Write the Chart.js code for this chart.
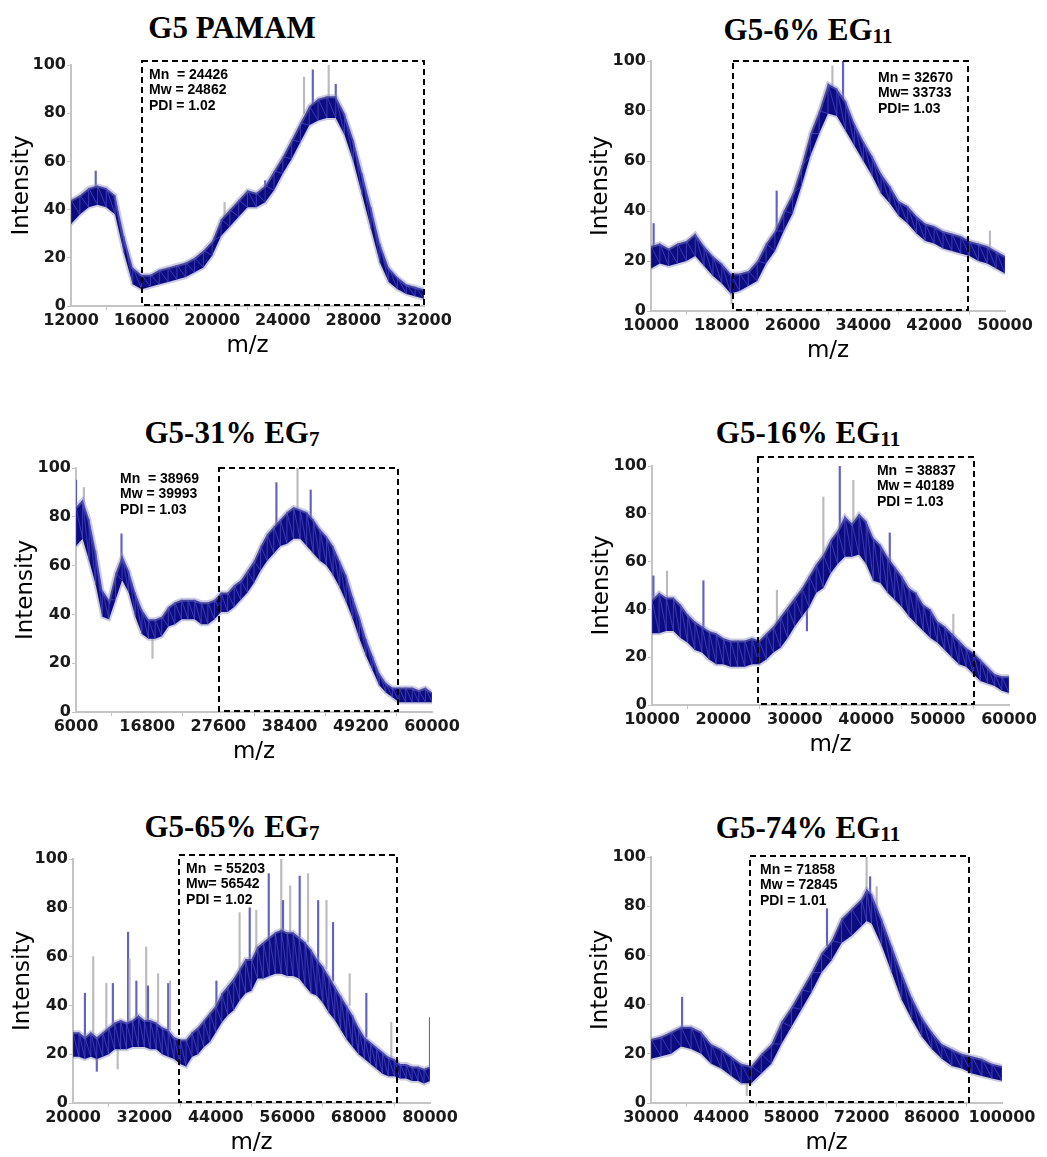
<!DOCTYPE html>
<html>
<head>
<meta charset="utf-8">
<script src="https://cdn.jsdelivr.net/npm/chart.js@4.4.1/dist/chart.umd.min.js"></script>
<style>
  html, body { margin: 0; padding: 0; background: #fff; }
  body { position: relative; width: 1047px; height: 1157px; overflow: hidden; }
  canvas { position: absolute; }
  .ttl { position: absolute; width: 320px; text-align: center; color: #000; white-space: nowrap;
         font: bold 31px "Liberation Serif", "Times New Roman", serif; line-height: 30px; }
  .ttl sub { font-size: 0.68em; vertical-align: -0.12em; line-height: 0; }
</style>
</head>
<body>
<div class="ttl" style="left:72px;top:13px">G5 PAMAM</div>
<div class="ttl" style="left:648px;top:15px">G5-6% EG<sub>11</sub></div>
<div class="ttl" style="left:72px;top:418px">G5-31% EG<sub>7</sub></div>
<div class="ttl" style="left:648px;top:418px">G5-16% EG<sub>11</sub></div>
<div class="ttl" style="left:72px;top:812px">G5-65% EG<sub>7</sub></div>
<div class="ttl" style="left:648px;top:813px">G5-74% EG<sub>11</sub></div>

<script>
// shared y ticks
const yTicks = [0, 20, 40, 60, 80, 100];

// G5 PAMAM
const xTicks1 = [12000, 16000, 20000, 24000, 28000, 32000];
const mz1 = [12000, 12500, 13000, 13500, 14000, 14500, 15000, 15500, 16000, 16500, 17000, 17500, 18000, 18500, 19000, 19500,
  20000, 20500, 21000, 21500, 22000, 22500, 23000, 23500, 24000, 24500, 25000, 25500, 26000, 26500, 27000, 27500,
  28000, 28500, 29000, 29500, 30000, 30500, 31000, 31500, 32000];
const lo1 = [34, 38, 41, 42, 41, 38, 22, 9, 7, 8, 9, 10, 11, 12, 14, 16,
  21, 29, 33, 37, 41, 41, 43, 48, 55, 61, 68, 75, 77, 78, 78, 71,
  60, 46, 32, 18, 10, 7, 5, 4, 3];
const hi1 = [44, 46, 49, 50, 49, 46, 29, 16, 13, 13, 15, 16, 17, 18, 20, 23,
  27, 36, 40, 44, 48, 47, 50, 56, 62, 69, 76, 83, 86, 87, 87, 80,
  69, 55, 41, 26, 16, 12, 9, 8, 7];
const spikes1 = [[13400, 44, 56], [20700, 33, 43], [23000, 44, 52], [25200, 80, 95], [25700, 82, 98], [26600, 84, 100], [27000, 83, 92]];
const stats1 = ['Mn  = 24426', 'Mw = 24862', 'PDI = 1.02'];

// G5-6% EG11
const xTicks2 = [10000, 18000, 26000, 34000, 42000, 50000];
const mz2 = [10000, 11000, 12000, 13000, 14000, 15000, 16000, 17000, 18000, 19000, 20000, 21000, 22000, 23000, 24000,
  25000, 26000, 27000, 28000, 29000, 30000, 31000, 32000, 33000, 34000, 35000, 36000, 37000, 38000, 39000, 40000,
  41000, 42000, 43000, 44000, 45000, 46000, 47000, 48000, 49000, 50000];
const lo2 = [17, 19, 18, 19, 20, 22, 18, 14, 11, 7, 8, 10, 12, 19, 24,
  32, 39, 50, 62, 71, 79, 78, 72, 66, 60, 54, 47, 43, 38, 35, 31,
  28, 27, 25, 24, 23, 22, 20, 19, 17, 15];
const hi2 = [26, 27, 25, 27, 28, 31, 26, 22, 19, 15, 15, 16, 20, 27, 32,
  40, 47, 58, 71, 80, 91, 89, 84, 75, 68, 62, 55, 50, 44, 42, 38,
  35, 34, 32, 31, 30, 28, 27, 26, 24, 22];
const spikes2 = [[10300, 24, 35], [19100, 3, 10], [24200, 30, 48], [30500, 88, 98], [31700, 85, 100], [48300, 24, 32]];
const stats2 = ['Mn = 32670', 'Mw= 33733', 'PDI= 1.03'];

// G5-31% EG7
const xTicks3 = [6000, 16800, 27600, 38400, 49200, 60000];
const mz3 = [6000, 7000, 8000, 9000, 10000, 11000, 12000, 13000, 14000, 15000, 16000, 17000, 18000, 19000, 20000,
  21000, 22000, 23000, 24000, 25000, 26000, 27000, 28000, 29000, 30000, 31000, 32000, 33000, 34000, 35000, 36000,
  37000, 38000, 39000, 40000, 41000, 42000, 43000, 44000, 45000, 46000, 47000, 48000, 49000, 50000, 51000, 52000,
  53000, 54000, 55000, 56000, 57000, 58000, 59000, 60000];
const lo3 = [68, 71, 62, 52, 39, 38, 46, 54, 49, 39, 32, 30, 30, 31, 35,
  36, 38, 38, 38, 36, 36, 38, 41, 41, 43, 46, 49, 53, 58, 62, 65,
  68, 69, 71, 71, 68, 65, 62, 60, 56, 51, 45, 38, 30, 23, 17, 11,
  8, 6, 4, 4, 4, 4, 4, 4];
const hi3 = [84, 87, 79, 66, 50, 46, 57, 64, 58, 49, 42, 38, 38, 39, 43,
  45, 46, 46, 46, 45, 45, 46, 49, 49, 52, 54, 58, 62, 68, 73, 76,
  79, 82, 84, 83, 82, 79, 75, 72, 68, 62, 56, 47, 39, 30, 23, 16,
  12, 10, 10, 10, 10, 9, 10, 8];
const spikes3 = [[6000, 80, 95], [7200, 82, 92], [12900, 62, 73], [17600, 22, 32], [36400, 74, 94], [39600, 80, 100], [41600, 80, 91]];
const stats3 = ['Mn  = 38969', 'Mw = 39993', 'PDI = 1.03'];

// G5-16% EG11
const xTicks4 = [10000, 20000, 30000, 40000, 50000, 60000];
const mz4 = [10000, 11000, 12000, 13000, 14000, 15000, 16000, 17000, 18000, 19000, 20000, 21000, 22000, 23000, 24000,
  25000, 26000, 27000, 28000, 29000, 30000, 31000, 32000, 33000, 34000, 35000, 36000, 37000, 38000, 39000, 40000,
  41000, 42000, 43000, 44000, 45000, 46000, 47000, 48000, 49000, 50000, 51000, 52000, 53000, 54000, 55000, 56000,
  57000, 58000, 59000, 60000];
const lo4 = [30, 30, 31, 31, 28, 26, 23, 22, 19, 17, 17, 16, 16, 16, 17,
  17, 19, 22, 24, 28, 33, 37, 41, 47, 49, 55, 59, 62, 62, 63, 59,
  52, 51, 47, 44, 41, 37, 34, 31, 28, 26, 23, 20, 17, 16, 13, 10,
  9, 8, 6, 5];
const hi4 = [44, 47, 45, 45, 42, 38, 35, 33, 31, 30, 28, 27, 27, 27, 28,
  27, 30, 33, 37, 41, 45, 49, 54, 59, 63, 69, 73, 79, 76, 80, 77,
  70, 67, 62, 58, 54, 49, 47, 42, 40, 35, 33, 30, 27, 24, 22, 19,
  16, 13, 12, 12];
const spikes4 = [[10200, 42, 54], [12100, 44, 56], [17200, 32, 52], [27500, 33, 48], [31700, 31, 40], [34000, 60, 87],
  [36300, 72, 100], [38200, 76, 94], [43300, 60, 72], [52200, 28, 38]];
const stats4 = ['Mn  = 38837', 'Mw = 40189', 'PDI = 1.03'];

// G5-65% EG7
const xTicks5 = [20000, 32000, 44000, 56000, 68000, 80000];
const mz5 = [20000, 21000, 22000, 23000, 24000, 25000, 26000, 27000, 28000, 29000, 30000, 31000, 32000, 33000, 34000,
  35000, 36000, 37000, 38000, 39000, 40000, 41000, 42000, 43000, 44000, 45000, 46000, 47000, 48000, 49000, 50000,
  51000, 52000, 53000, 54000, 55000, 56000, 57000, 58000, 59000, 60000, 61000, 62000, 63000, 64000, 65000, 66000,
  67000, 68000, 69000, 70000, 71000, 72000, 73000, 74000, 75000, 76000, 77000, 78000, 79000, 80000];
const lo5 = [19, 19, 18, 19, 18, 19, 20, 22, 22, 22, 23, 23, 23, 22, 22,
  20, 19, 18, 16, 15, 19, 20, 23, 25, 29, 33, 36, 38, 42, 45, 46,
  51, 51, 52, 53, 53, 52, 52, 51, 48, 45, 44, 41, 37, 34, 30, 26,
  23, 20, 18, 16, 14, 12, 11, 11, 10, 10, 9, 9, 8, 9];
const hi5 = [29, 29, 27, 29, 27, 29, 31, 33, 34, 33, 34, 36, 34, 34, 33,
  31, 30, 27, 26, 26, 29, 31, 34, 37, 40, 45, 48, 51, 55, 59, 59,
  64, 66, 68, 70, 71, 70, 70, 68, 66, 63, 59, 56, 52, 48, 44, 40,
  36, 31, 27, 25, 23, 21, 19, 18, 16, 16, 15, 15, 14, 15];
const spikes5 = [[22000, 27, 45], [23400, 28, 60], [24000, 13, 20], [25600, 30, 49], [26700, 32, 49], [27500, 14, 22],
  [29250, 33, 70], [29500, 33, 59], [30650, 34, 50], [32300, 34, 64], [32600, 34, 48], [34300, 33, 53],
  [36000, 30, 49], [36300, 30, 50], [44100, 40, 50], [48000, 55, 78], [49700, 58, 80], [50800, 60, 79],
  [52900, 66, 94], [55000, 70, 100], [55300, 70, 83], [56500, 70, 89], [58100, 68, 93], [59500, 66, 94],
  [61200, 58, 83], [62600, 55, 83], [63700, 50, 74], [66500, 40, 53], [69300, 27, 45], [73500, 18, 33], [80000, 15, 35]];
const stats5 = ['Mn  = 55203', 'Mw= 56542', 'PDI = 1.02'];

// G5-74% EG11
const xTicks6 = [30000, 44000, 58000, 72000, 86000, 100000];
const mz6 = [30000, 32000, 34000, 36000, 38000, 40000, 42000, 44000, 46000, 48000, 50000, 52000, 54000, 56000, 58000,
  60000, 62000, 64000, 66000, 68000, 70000, 72000, 73000, 74000, 76000, 78000, 80000, 82000, 84000, 86000, 88000,
  90000, 92000, 94000, 96000, 98000, 100000];
const lo6 = [18, 19, 20, 23, 22, 20, 16, 14, 11, 8, 8, 12, 16, 24, 31,
  38, 45, 53, 58, 65, 68, 72, 74, 73, 64, 53, 42, 34, 27, 22, 18,
  15, 14, 12, 11, 10, 9];
const hi6 = [26, 27, 29, 31, 31, 29, 24, 22, 19, 16, 15, 20, 24, 33, 39,
  46, 53, 61, 66, 75, 79, 83, 87, 85, 75, 64, 53, 43, 35, 29, 24,
  22, 20, 19, 18, 16, 15];
const spikes6 = [[36200, 30, 43], [49100, 3, 12], [65100, 64, 79], [73000, 85, 100], [73700, 84, 92], [75000, 78, 88]];
const stats6 = ['Mn = 71858', 'Mw = 72845', 'PDI = 1.01'];

// panel layout: plot area in page pixels, dashed box and stats text in data units
const panels = [
  { mz: mz1, lo: lo1, hi: hi1, spikes: spikes1, xTicks: xTicks1, stats: stats1,
    l: 71, t: 65, r: 424, b: 306, box: [16000, 32000, 0.3, 101.7], txt: [16420, 95.9] },
  { mz: mz2, lo: lo2, hi: hi2, spikes: spikes2, xTicks: xTicks2, stats: stats2,
    l: 651, t: 61, r: 1005, b: 311, box: [19300, 45800, 0.3, 100], txt: [35650, 93.2] },
  { mz: mz3, lo: lo3, hi: hi3, spikes: spikes3, xTicks: xTicks3, stats: stats3,
    l: 76, t: 468, r: 432, b: 712, box: [27700, 54800, 0.3, 100], txt: [12670, 95.5] },
  { mz: mz4, lo: lo4, hi: hi4, spikes: spikes4, xTicks: xTicks4, stats: stats4,
    l: 652, t: 466, r: 1009, b: 705, box: [24800, 55100, 0.3, 103.8], txt: [41500, 97.9], padR: 36 },
  { mz: mz5, lo: lo5, hi: hi5, spikes: spikes5, xTicks: xTicks5, stats: stats5,
    l: 73, t: 859, r: 430, b: 1103, box: [37800, 74500, 0.3, 101.6], txt: [39000, 95.9] },
  { mz: mz6, lo: lo6, hi: hi6, spikes: spikes6, xTicks: xTicks6, stats: stats6,
    l: 651, t: 857, r: 1002, b: 1103, box: [49700, 93400, 0.3, 100.4], txt: [51740, 94.7] }
];

const tickFont = { family: '"DejaVu Sans", sans-serif', size: 16, weight: 'bold' };
const titleFont = { family: '"DejaVu Sans", sans-serif', size: 23, lineHeight: 1 };
const axisGray = '#c4c4c4';

function boxPlugin(p) {
  return {
    id: 'massBox',
    afterDatasetsDraw(chart) {
      const { ctx, scales: { x, y } } = chart;
      const x0 = Math.round(x.getPixelForValue(p.box[0]));
      const x1 = Math.round(x.getPixelForValue(p.box[1]));
      const y0 = Math.round(y.getPixelForValue(p.box[2]));
      const y1 = Math.round(y.getPixelForValue(p.box[3]));
      ctx.save();
      ctx.strokeStyle = '#000';
      ctx.lineWidth = 2;
      ctx.setLineDash([6, 4]);
      ctx.strokeRect(x0, y1, x1 - x0, y0 - y1);
      ctx.setLineDash([]);
      ctx.fillStyle = '#000';
      ctx.font = 'bold 14px "Liberation Sans", Arial, sans-serif';
      ctx.textBaseline = 'middle';
      ctx.textAlign = 'left';
      const tx = x.getPixelForValue(p.txt[0]);
      const ty = y.getPixelForValue(p.txt[1]);
      p.stats.forEach((s, i) => ctx.fillText(s, tx, ty + i * 15.5));
      ctx.restore();
    }
  };
}

panels.forEach(p => {
  const padR = p.padR || 40;
  const cl = Math.max(0, p.l - 72);
  const ct = p.t - 14;
  const yW = p.l - cl;
  const cv = document.createElement('canvas');
  cv.width = p.r - cl + padR;
  cv.height = p.b - ct + 62;
  cv.style.left = cl + 'px';
  cv.style.top = ct + 'px';
  document.body.appendChild(cv);

  // noise streaks: walk each sample from its low to its high reading
  const streaks = [];
  p.mz.forEach((m, i) => {
    streaks.push({ x: m, y: p.lo[i] });
    streaks.push({ x: m, y: p.hi[i] });
  });

  new Chart(cv, {
    type: 'line',
    data: {
      datasets: [
        {
          data: streaks,
          borderColor: 'rgba(80, 80, 210, 0.65)',
          borderWidth: 1,
          fill: false,
          pointRadius: 0,
          tension: 0,
          order: 0
        },
        {
          data: p.mz.map((m, i) => ({ x: m, y: p.hi[i] })),
          borderColor: 'rgba(140, 140, 190, 0.45)',
          borderWidth: 4,
          backgroundColor: 'rgba(0, 0, 122, 0.95)',
          fill: '+1',
          pointRadius: 0,
          tension: 0,
          order: 1
        },
        {
          data: p.mz.map((m, i) => ({ x: m, y: p.lo[i] })),
          borderColor: 'rgba(140, 140, 190, 0.45)',
          borderWidth: 4,
          fill: false,
          pointRadius: 0,
          tension: 0,
          order: 2
        },
        {
          type: 'bar',
          data: p.spikes.map(s => ({ x: s[0], y: [s[1], s[2]] })),
          backgroundColor: c => c.dataIndex % 2 ? 'rgba(175, 175, 180, 0.85)' : 'rgba(70, 70, 185, 0.85)',
          borderWidth: 0,
          barThickness: 1.5,
          grouped: false,
          order: 3
        }
      ]
    },
    options: {
      responsive: false,
      animation: false,
      events: [],
      layout: { padding: { left: 0, top: 14, right: padR, bottom: 0 } },
      plugins: { legend: { display: false }, tooltip: { enabled: false } },
      scales: {
        x: {
          type: 'linear',
          offset: false,
          min: p.xTicks[0],
          max: p.xTicks[p.xTicks.length - 1],
          afterBuildTicks: s => { s.ticks = p.xTicks.map(v => ({ value: v })); },
          afterFit: s => { s.height = 62; },
          ticks: { font: tickFont, color: '#1a1a1a', padding: 1, maxRotation: 0, autoSkip: false,
                   callback: v => String(v) },
          grid: { drawOnChartArea: false, drawTicks: true, tickLength: 4, color: axisGray },
          border: { display: true, color: axisGray, width: 2 },
          title: { display: true, text: 'm/z', font: titleFont, color: '#000', padding: { top: 0, bottom: 10 } }
        },
        y: {
          type: 'linear',
          min: 0,
          max: 100,
          afterBuildTicks: s => { s.ticks = yTicks.map(v => ({ value: v })); },
          afterFit: s => { s.width = yW; },
          ticks: { font: tickFont, color: '#1a1a1a', padding: 1 },
          grid: { drawOnChartArea: false, drawTicks: true, tickLength: 4, color: axisGray },
          border: { display: true, color: axisGray, width: 2 },
          title: { display: true, text: 'Intensity', font: titleFont, color: '#000', padding: { top: 11, bottom: 0 } }
        }
      }
    },
    plugins: [boxPlugin(p)]
  });
});
</script>
</body>
</html>
